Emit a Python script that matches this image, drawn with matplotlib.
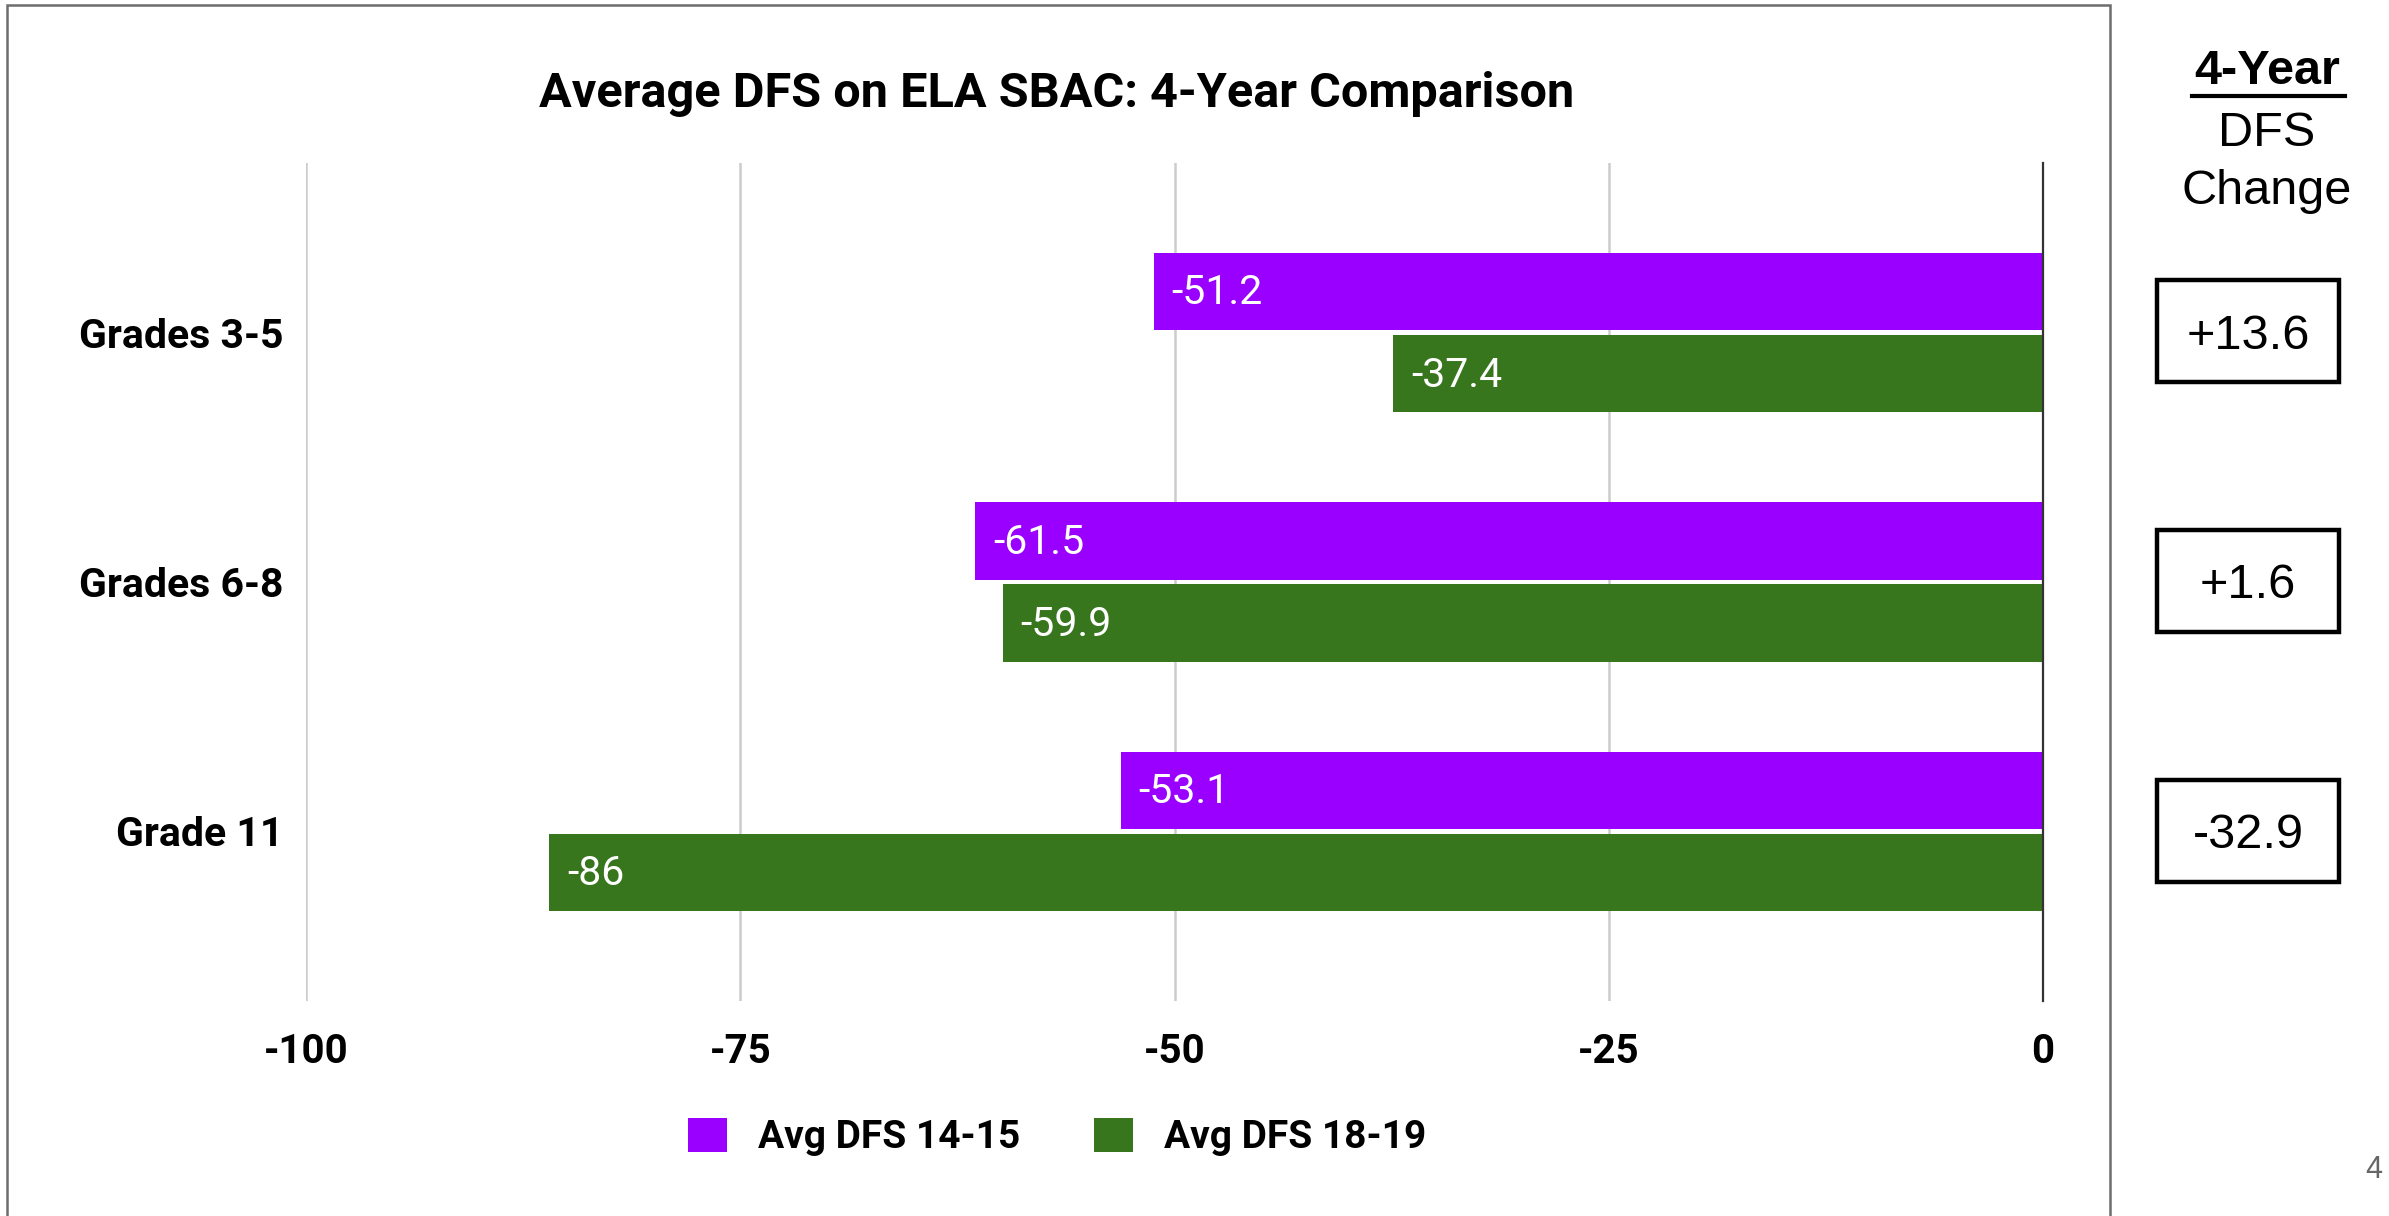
import matplotlib
matplotlib.use("Agg")
import matplotlib.pyplot as plt
from matplotlib.patches import Rectangle
from matplotlib.lines import Line2D
import numpy as np

categories = ["Grades 3-5", "Grades 6-8", "Grade 11"]
dfs_1415 = [-51.2, -61.5, -53.1]
dfs_1819 = [-37.4, -59.9, -86]
series_names = ["Avg DFS 14-15", "Avg DFS 18-19"]
changes = ["+13.6", "+1.6", "-32.9"]
xticks = [-100, -75, -50, -25, 0]
title = "Average DFS on ELA SBAC: 4-Year Comparison"

purple = "#9900ff"
green = "#38761d"

W, H = 2389, 1216
fig = plt.figure(figsize=(W / 100, H / 100), dpi=100)
fig.patch.set_facecolor("white")

def fx(px):
    return px / W

def fy(py):
    return 1 - py / H

ax = fig.add_axes([fx(306), fy(1001), fx(2043) - fx(306), fy(163) - fy(1001)])

y = np.arange(len(categories))
h = 0.31
off = 0.165
b1 = ax.barh(y - off, dfs_1415, height=h, color=purple, label=series_names[0], zorder=3)
b2 = ax.barh(y + off, dfs_1819, height=h, color=green, label=series_names[1], zorder=3)

for bars, vals in ((b1, dfs_1415), (b2, dfs_1819)):
    for rect, v in zip(bars, vals):
        ax.annotate(f"{v:g}", xy=(v, rect.get_y() + rect.get_height() / 2),
                    xytext=(13, -1), textcoords="offset points",
                    ha="left", va="center", color="white",
                    fontsize=29.5, family="Roboto", zorder=4)

ax.set_xlim(-100, 0)
ax.set_ylim(len(categories) - 1 + 0.68, -0.68)
ax.set_xticks(xticks)
ax.set_xticklabels([str(t) for t in xticks], fontsize=29, fontweight="bold", family="Roboto")
ax.set_yticks(y)
ax.set_yticklabels(categories, fontsize=29.5, fontweight="bold", family="Roboto")
ax.tick_params(axis="x", length=0, pad=23)
ax.tick_params(axis="y", length=0, pad=16.5)
for s in ax.spines.values():
    s.set_visible(False)
for t in xticks[:-1]:
    ax.axvline(t, color="#cccccc", lw=1.8, zorder=1)
ax.axvline(0, color="#333333", lw=1.6, zorder=5, clip_on=False)

fig.text(fx(1057), fy(94), title, ha="center", va="center",
         fontsize=35, fontweight="bold", family="Roboto")

leg = ax.legend(handles=[b1, b2], loc="center", bbox_to_anchor=(fx(1057), fy(1137)),
                bbox_transform=fig.transFigure, ncol=2, frameon=False,
                prop={"family": "Roboto", "weight": "bold", "size": 28},
                handlelength=1.0, handleheight=1.0, handletextpad=0.8, columnspacing=1.9)

# chart frame
fig.add_artist(Rectangle((fx(7), fy(1230)), fx(2110) - fx(7), fy(5) - fy(1230),
                         transform=fig.transFigure, fill=False, edgecolor="#6d6d6d", lw=1.8))

# right panel
cx = fx(2267)
fig.text(cx, fy(72), "4-Year", ha="center", va="center", fontsize=35,
         fontweight="bold", family="Liberation Sans")
fig.add_artist(Line2D([fx(2192), fx(2345)], [fy(96), fy(96)], transform=fig.transFigure,
                      color="black", lw=3))
fig.text(cx, fy(133), "DFS", ha="center", va="center", fontsize=35, family="Liberation Sans")
fig.text(cx, fy(191), "Change", ha="center", va="center", fontsize=35, family="Liberation Sans")

box_tops = [280, 530, 780]
bx0, bx1 = 2157, 2339
for top, txt in zip(box_tops, changes):
    fig.add_artist(Rectangle((fx(bx0), fy(top + 102)), fx(bx1) - fx(bx0), fy(top) - fy(top + 102),
                             transform=fig.transFigure, fill=False, edgecolor="black", lw=3.2))
    fig.text(fx((bx0 + bx1) / 2), fy(top + 56), txt, ha="center", va="center", fontsize=35,
             family="Liberation Sans")

fig.text(fx(2374), fy(1170), "4", ha="center", va="center", fontsize=22,
         color="#666666", family="Liberation Sans")

fig.savefig("out.png", dpi=100, facecolor="white")
